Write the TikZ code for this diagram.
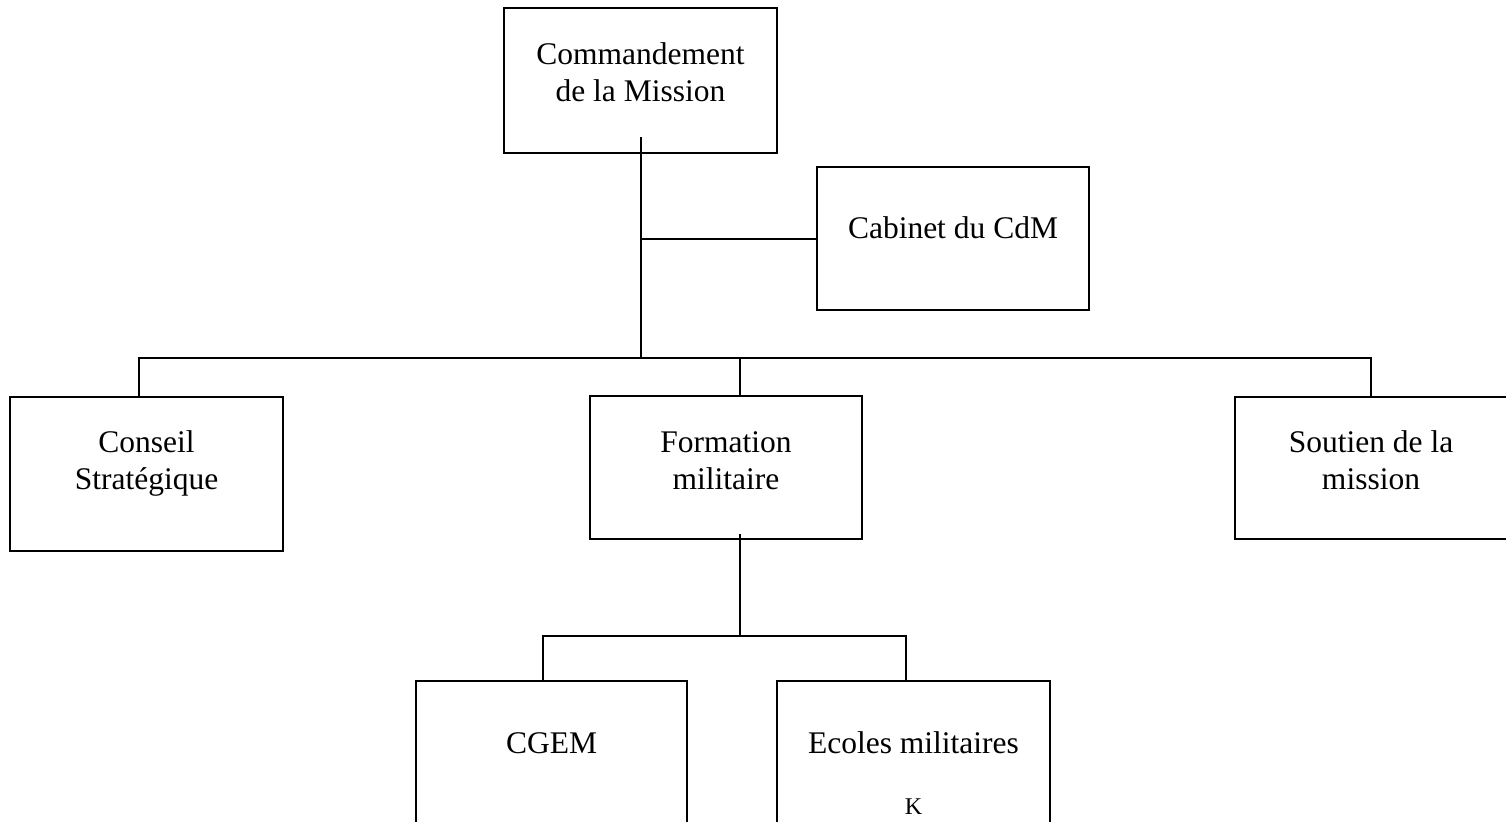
\documentclass[tikz,border=0pt]{standalone}
\usepackage{fontspec}
\setmainfont{Liberation Serif}
\usepackage{tikz}
\newcommand{\unitfont}{\fontsize{15.75}{18.5}\selectfont}
\tikzstyle{unit} = [rectangle, draw=black, line width=1pt, anchor=north, inner sep=0pt, align=center, font=\unitfont]
\tikzstyle{link} = [line width=1pt]

\begin{document}
\begin{tikzpicture}[x=0.5pt, y=-0.5pt]
        \useasboundingbox (0,0) rectangle (1506,821);
        \clip (0,0) rectangle (1506,821);
        \node (cmd) [unit, minimum width=136.5pt, text height=46.5pt, text depth=26pt] at (640.5,7) {Commandement\\de la Mission};
        \node (cabinet) [unit, minimum width=136pt, text height=35.5pt, text depth=36pt] at (953,166) {Cabinet du CdM};
        \node (conseil) [unit, minimum width=136.5pt, text height=46pt, text depth=31pt] at (146.5,396) {Conseil\\Stratégique};
        \node (formation) [unit, minimum width=136pt, text height=46.5pt, text depth=25pt] at (726,395) {Formation\\militaire};
        \node (soutien) [unit, minimum width=136pt, text height=46pt, text depth=25pt] at (1371,396) {Soutien de la\\mission};
        \node (cgem) [unit, minimum width=135.5pt, text height=36pt, text depth=75pt] at (551.5,680) {CGEM};
        \node (ecoles) [unit, minimum width=136.5pt, text height=66.5pt, text depth=45pt] at (913.5,680) {Ecoles militaires\\[12pt]{\fontsize{12}{14}\selectfont K}};

        \coordinate (bus) at (640.5,358);
        \coordinate (subbus) at (739.5,636);

        \draw [link] ([yshift=8.5pt]cmd.south) -- (bus);
        \draw [link] (cmd.south |- cabinet.west) -- (cabinet.west);
        \draw [link] ([xshift=-3.75pt]conseil.north) |- (bus) -| (soutien.north);
        \draw [link] ([xshift=6.75pt]formation.north) -- ([xshift=6.75pt]formation.north |- bus);
        \draw [link] ([xshift=6.75pt, yshift=3pt]formation.south) -- (subbus);
        \draw [link] ([xshift=-4.25pt]cgem.north) |- (subbus) -| ([xshift=-3.75pt]ecoles.north);
\end{tikzpicture}
\end{document}
